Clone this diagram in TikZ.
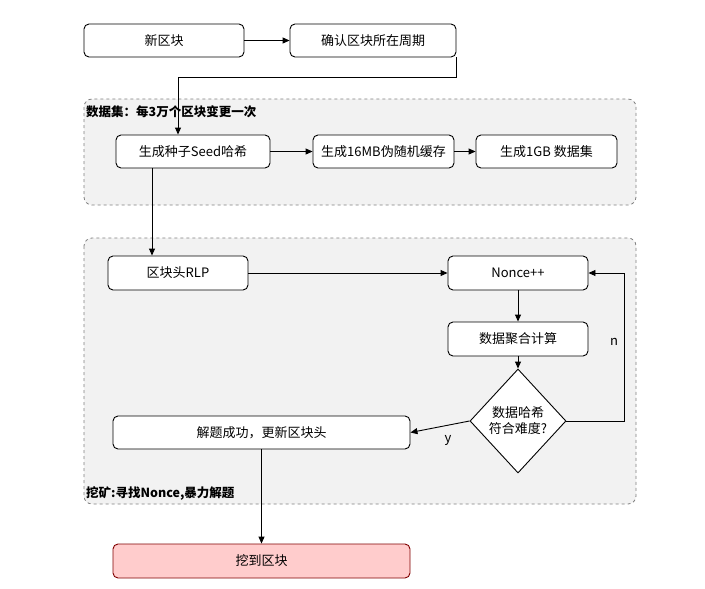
\documentclass[tikz,border=0pt]{standalone}
\usepackage{fontspec}
\setmainfont{Noto Sans CJK SC}
\usetikzlibrary{shapes.geometric,arrows.meta}
\begin{document}
\begin{tikzpicture}[x=1pt,y=-1pt,
  txt/.style={font=\fontsize{13}{16}\selectfont},
  box/.style={draw,rounded corners=5pt,line width=0.9pt,fill=white,txt,inner sep=0pt},
  grp/.style={draw=gray,dashed,rounded corners=8pt,fill=gray!10,line width=0.8pt},
  arr/.style={-{Triangle[length=7pt,width=6pt]},line width=0.9pt},
  glabel/.style={font=\fontsize{12.5}{15}\selectfont\bfseries,anchor=west,inner sep=2pt}]
\useasboundingbox (0,0) rectangle (705,589);
\draw[grp] (84,99) rectangle (636,205);
\draw[grp] (84,238) rectangle (636,504);
\node[glabel] (g1) at (84,112) {数据集：每3万个区块变更一次};
\node[glabel] (g2) at (84,494) {挖矿:寻找Nonce,暴力解题};
\node[box,minimum width=160pt,minimum height=33pt] (new) at (164,40.5) {新区块};
\node[box,minimum width=166pt,minimum height=33pt] (conf) at (373,40.5) {确认区块所在周期};
\node[box,minimum width=154pt,minimum height=33pt] (seed) at (193,151.5) {生成种子Seed哈希};
\node[box,minimum width=141pt,minimum height=33pt] (cache) at (383.5,151.5) {生成16MB伪随机缓存};
\node[box,minimum width=141pt,minimum height=33pt] (ds) at (546.5,151.5) {生成1GB 数据集};
\node[box,minimum width=140pt,minimum height=34pt] (rlp) at (178,273) {区块头RLP};
\node[box,minimum width=140pt,minimum height=34pt] (nonce) at (518,273) {Nonce++};
\node[box,minimum width=140pt,minimum height=34pt] (agg) at (518,339) {数据聚合计算};
\node[diamond,draw,fill=white,line width=0.9pt,minimum width=96pt,minimum height=104pt,inner sep=0pt,align=center,txt] (dia) at (518,421) {数据哈希\\符合难度?};
\node[box,minimum width=297pt,minimum height=33pt] (ok) at (261.5,432.5) {解题成功，更新区块头};
\node[box,minimum width=297pt,minimum height=34pt,fill=red!20,draw=red!50!black] (got) at (261.5,561) {挖到区块};
\coordinate (c1) at (624,273);
\draw[arr] (new) -- (conf);
\draw[arr] (conf.south east) -- ++(0,20) -| ([xshift=-15pt]seed.north);
\draw[arr] ([xshift=-41pt]seed.south) -- ([xshift=-26pt]rlp.north);
\draw[arr] (seed) -- (cache);
\draw[arr] (cache) -- (ds);
\draw[arr] (rlp) -- (nonce);
\draw[arr] (nonce) -- (agg);
\draw[arr] (agg) -- (dia);
\draw[arr] (dia.east) -| (c1) -- (nonce.east);
\draw[arr] (dia.west) -- (ok.east);
\draw[arr] (ok) -- (got);
\node[txt] (n) at (614,342) {n};
\node[txt] (y) at (448,440) {y};
\end{tikzpicture}
\end{document}
